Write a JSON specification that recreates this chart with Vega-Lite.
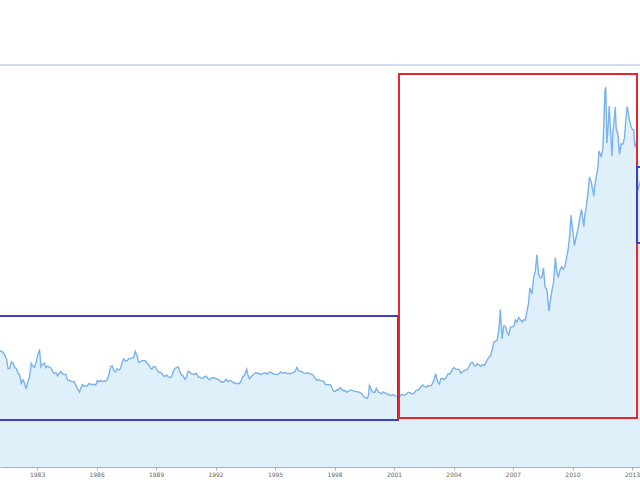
{
  "$schema": "https://vega.github.io/schema/vega-lite/v6.json",
  "width": 640,
  "height": 402,
  "autosize": {"type": "none"},
  "padding": {"left": 0, "top": 65, "right": 0, "bottom": 13},
  "background": "white",
  "config": {"view": {"stroke": null}},
  "datasets": {
    "gold": [
      {"date":"1981-02-01","price":505},{"date":"1981-03-15","price":499},{"date":"1981-04-15","price":496},{"date":"1981-05-15","price":480},{"date":"1981-06-15","price":461},{"date":"1981-07-15","price":409},{"date":"1981-08-15","price":410},{"date":"1981-09-15","price":444},{"date":"1981-10-15","price":437},{"date":"1981-11-15","price":413},{"date":"1981-12-15","price":410},
      {"date":"1982-01-15","price":384},{"date":"1982-02-15","price":374},{"date":"1982-03-15","price":330},{"date":"1982-04-15","price":350},{"date":"1982-05-15","price":333},{"date":"1982-06-15","price":300},{"date":"1982-07-15","price":340},{"date":"1982-08-15","price":364},{"date":"1982-09-15","price":436},{"date":"1982-10-15","price":422},{"date":"1982-11-15","price":415},{"date":"1982-12-15","price":444},
      {"date":"1983-01-15","price":481},{"date":"1983-02-15","price":510},{"date":"1983-03-15","price":419},{"date":"1983-04-15","price":432},{"date":"1983-05-15","price":438},{"date":"1983-06-15","price":413},{"date":"1983-07-15","price":422},{"date":"1983-08-15","price":416},{"date":"1983-09-15","price":412},{"date":"1983-10-15","price":394},{"date":"1983-11-15","price":381},{"date":"1983-12-15","price":388},
      {"date":"1984-01-15","price":370},{"date":"1984-02-15","price":386},{"date":"1984-03-15","price":394},{"date":"1984-04-15","price":381},{"date":"1984-05-15","price":377},{"date":"1984-06-15","price":378},{"date":"1984-07-15","price":348},{"date":"1984-08-15","price":348},{"date":"1984-09-15","price":341},{"date":"1984-10-15","price":340},{"date":"1984-11-15","price":341},{"date":"1984-12-15","price":320},
      {"date":"1985-01-15","price":303},{"date":"1985-02-20","price":285},{"date":"1985-03-15","price":304},{"date":"1985-04-15","price":325},{"date":"1985-05-15","price":316},{"date":"1985-06-15","price":317},{"date":"1985-07-15","price":317},{"date":"1985-08-15","price":330},{"date":"1985-09-15","price":324},{"date":"1985-10-15","price":326},{"date":"1985-11-15","price":325},{"date":"1985-12-15","price":322},
      {"date":"1986-01-15","price":345},{"date":"1986-02-15","price":339},{"date":"1986-03-15","price":346},{"date":"1986-04-15","price":340},{"date":"1986-05-15","price":342},{"date":"1986-06-15","price":343},{"date":"1986-07-15","price":348},{"date":"1986-08-15","price":376},{"date":"1986-09-15","price":418},{"date":"1986-10-15","price":423},{"date":"1986-11-15","price":398},{"date":"1986-12-15","price":391},
      {"date":"1987-01-15","price":408},{"date":"1987-02-15","price":401},{"date":"1987-03-15","price":408},{"date":"1987-04-15","price":439},{"date":"1987-05-15","price":460},{"date":"1987-06-15","price":450},{"date":"1987-07-15","price":450},{"date":"1987-08-15","price":461},{"date":"1987-09-15","price":460},{"date":"1987-10-15","price":465},{"date":"1987-11-15","price":467},{"date":"1987-12-14","price":500},
      {"date":"1988-01-15","price":477},{"date":"1988-02-15","price":442},{"date":"1988-03-15","price":444},{"date":"1988-04-15","price":452},{"date":"1988-05-15","price":451},{"date":"1988-06-15","price":451},{"date":"1988-07-15","price":437},{"date":"1988-08-15","price":432},{"date":"1988-09-15","price":413},{"date":"1988-10-15","price":406},{"date":"1988-11-15","price":420},{"date":"1988-12-15","price":419},
      {"date":"1989-01-15","price":404},{"date":"1989-02-15","price":388},{"date":"1989-03-15","price":390},{"date":"1989-04-15","price":384},{"date":"1989-05-15","price":371},{"date":"1989-06-15","price":367},{"date":"1989-07-15","price":375},{"date":"1989-08-15","price":365},{"date":"1989-09-15","price":362},{"date":"1989-10-15","price":367},{"date":"1989-11-15","price":394},{"date":"1989-12-15","price":409},
      {"date":"1990-01-15","price":415},{"date":"1990-02-15","price":417},{"date":"1990-03-15","price":393},{"date":"1990-04-15","price":374},{"date":"1990-05-15","price":369},{"date":"1990-06-15","price":352},{"date":"1990-07-15","price":362},{"date":"1990-08-15","price":395},{"date":"1990-09-15","price":389},{"date":"1990-10-15","price":381},{"date":"1990-11-15","price":381},{"date":"1990-12-15","price":378},
      {"date":"1991-01-15","price":384},{"date":"1991-02-15","price":364},{"date":"1991-03-15","price":363},{"date":"1991-04-15","price":358},{"date":"1991-05-15","price":357},{"date":"1991-06-15","price":367},{"date":"1991-07-15","price":368},{"date":"1991-08-15","price":356},{"date":"1991-09-15","price":349},{"date":"1991-10-15","price":358},{"date":"1991-11-15","price":360},{"date":"1991-12-15","price":361},
      {"date":"1992-01-15","price":354},{"date":"1992-02-15","price":354},{"date":"1992-03-15","price":345},{"date":"1992-04-15","price":339},{"date":"1992-05-15","price":337},{"date":"1992-06-15","price":341},{"date":"1992-07-15","price":353},{"date":"1992-08-15","price":340},{"date":"1992-09-15","price":345},{"date":"1992-10-15","price":344},{"date":"1992-11-15","price":335},{"date":"1992-12-15","price":334},
      {"date":"1993-01-15","price":329},{"date":"1993-02-15","price":330},{"date":"1993-03-15","price":330},{"date":"1993-04-15","price":342},{"date":"1993-05-15","price":367},{"date":"1993-06-15","price":372},{"date":"1993-07-30","price":405},{"date":"1993-08-15","price":379},{"date":"1993-09-15","price":355},{"date":"1993-10-15","price":364},{"date":"1993-11-15","price":373},{"date":"1993-12-15","price":383},
      {"date":"1994-01-15","price":387},{"date":"1994-02-15","price":382},{"date":"1994-03-15","price":384},{"date":"1994-04-15","price":378},{"date":"1994-05-15","price":381},{"date":"1994-06-15","price":386},{"date":"1994-07-15","price":385},{"date":"1994-08-15","price":380},{"date":"1994-09-15","price":391},{"date":"1994-10-15","price":389},{"date":"1994-11-15","price":384},{"date":"1994-12-15","price":379},
      {"date":"1995-01-15","price":379},{"date":"1995-02-15","price":377},{"date":"1995-03-15","price":382},{"date":"1995-04-15","price":391},{"date":"1995-05-15","price":385},{"date":"1995-06-15","price":387},{"date":"1995-07-15","price":386},{"date":"1995-08-15","price":383},{"date":"1995-09-15","price":383},{"date":"1995-10-15","price":383},{"date":"1995-11-15","price":386},{"date":"1995-12-15","price":387},
      {"date":"1996-01-15","price":399},{"date":"1996-02-05","price":415},{"date":"1996-03-15","price":396},{"date":"1996-04-15","price":393},{"date":"1996-05-15","price":392},{"date":"1996-06-15","price":385},{"date":"1996-07-15","price":383},{"date":"1996-08-15","price":387},{"date":"1996-09-15","price":383},{"date":"1996-10-15","price":381},{"date":"1996-11-15","price":378},{"date":"1996-12-15","price":369},
      {"date":"1997-01-15","price":355},{"date":"1997-02-15","price":347},{"date":"1997-03-15","price":352},{"date":"1997-04-15","price":344},{"date":"1997-05-15","price":344},{"date":"1997-06-15","price":341},{"date":"1997-07-15","price":324},{"date":"1997-08-15","price":324},{"date":"1997-09-15","price":323},{"date":"1997-10-15","price":325},{"date":"1997-11-15","price":306},{"date":"1997-12-15","price":289},
      {"date":"1998-01-15","price":289},{"date":"1998-02-15","price":297},{"date":"1998-03-15","price":296},{"date":"1998-04-15","price":308},{"date":"1998-05-15","price":299},{"date":"1998-06-15","price":292},{"date":"1998-07-15","price":293},{"date":"1998-08-15","price":284},{"date":"1998-09-15","price":289},{"date":"1998-10-15","price":296},{"date":"1998-11-15","price":294},{"date":"1998-12-15","price":291},
      {"date":"1999-01-15","price":287},{"date":"1999-02-15","price":287},{"date":"1999-03-15","price":286},{"date":"1999-04-15","price":282},{"date":"1999-05-15","price":277},{"date":"1999-06-15","price":262},{"date":"1999-07-15","price":256},{"date":"1999-08-25","price":252},{"date":"1999-09-15","price":265},{"date":"1999-10-05","price":320},{"date":"1999-11-15","price":293},{"date":"1999-12-15","price":284},
      {"date":"2000-01-15","price":284},{"date":"2000-02-10","price":305},{"date":"2000-03-15","price":286},{"date":"2000-04-15","price":280},{"date":"2000-05-15","price":275},{"date":"2000-06-15","price":286},{"date":"2000-07-15","price":282},{"date":"2000-08-15","price":274},{"date":"2000-09-15","price":273},{"date":"2000-10-15","price":270},{"date":"2000-11-15","price":266},{"date":"2000-12-15","price":272},
      {"date":"2001-01-15","price":266},{"date":"2001-02-15","price":262},{"date":"2001-03-15","price":263},{"date":"2001-04-02","price":256},{"date":"2001-05-15","price":272},{"date":"2001-06-15","price":270},{"date":"2001-07-15","price":268},{"date":"2001-08-15","price":273},{"date":"2001-09-15","price":283},{"date":"2001-10-15","price":283},{"date":"2001-11-15","price":276},{"date":"2001-12-15","price":276},
      {"date":"2002-01-15","price":282},{"date":"2002-02-15","price":296},{"date":"2002-03-15","price":294},{"date":"2002-04-15","price":302},{"date":"2002-05-15","price":314},{"date":"2002-06-15","price":322},{"date":"2002-07-15","price":314},{"date":"2002-08-15","price":310},{"date":"2002-09-15","price":319},{"date":"2002-10-15","price":317},{"date":"2002-11-15","price":319},{"date":"2002-12-15","price":333},
      {"date":"2003-01-15","price":357},{"date":"2003-02-05","price":382},{"date":"2003-03-15","price":340},{"date":"2003-04-15","price":328},{"date":"2003-05-15","price":355},{"date":"2003-06-15","price":356},{"date":"2003-07-15","price":351},{"date":"2003-08-15","price":360},{"date":"2003-09-15","price":379},{"date":"2003-10-15","price":379},{"date":"2003-11-15","price":389},{"date":"2003-12-15","price":407},
      {"date":"2004-01-15","price":414},{"date":"2004-02-15","price":405},{"date":"2004-03-15","price":406},{"date":"2004-04-15","price":404},{"date":"2004-05-15","price":384},{"date":"2004-06-15","price":392},{"date":"2004-07-15","price":398},{"date":"2004-08-15","price":401},{"date":"2004-09-15","price":405},{"date":"2004-10-15","price":420},{"date":"2004-11-15","price":439},{"date":"2004-12-15","price":442},
      {"date":"2005-01-15","price":424},{"date":"2005-02-15","price":423},{"date":"2005-03-15","price":434},{"date":"2005-04-15","price":428},{"date":"2005-05-15","price":421},{"date":"2005-06-15","price":430},{"date":"2005-07-15","price":424},{"date":"2005-08-15","price":438},{"date":"2005-09-15","price":456},{"date":"2005-10-15","price":470},{"date":"2005-11-15","price":476},{"date":"2005-12-15","price":510},
      {"date":"2006-01-15","price":549},{"date":"2006-02-15","price":555},{"date":"2006-03-15","price":557},{"date":"2006-04-15","price":610},{"date":"2006-05-12","price":720},{"date":"2006-06-14","price":567},{"date":"2006-07-15","price":634},{"date":"2006-08-15","price":632},{"date":"2006-09-15","price":599},{"date":"2006-10-15","price":585},{"date":"2006-11-15","price":627},{"date":"2006-12-15","price":629},
      {"date":"2007-01-15","price":631},{"date":"2007-02-15","price":665},{"date":"2007-03-15","price":655},{"date":"2007-04-15","price":679},{"date":"2007-05-15","price":667},{"date":"2007-06-15","price":655},{"date":"2007-07-15","price":665},{"date":"2007-08-15","price":665},{"date":"2007-09-15","price":712},{"date":"2007-10-15","price":754},{"date":"2007-11-08","price":835},{"date":"2007-12-15","price":803},
      {"date":"2008-01-15","price":889},{"date":"2008-02-15","price":922},{"date":"2008-03-17","price":1011},{"date":"2008-04-15","price":909},{"date":"2008-05-15","price":888},{"date":"2008-06-15","price":889},{"date":"2008-07-15","price":939},{"date":"2008-08-15","price":839},{"date":"2008-09-15","price":829},{"date":"2008-10-24","price":712},{"date":"2008-11-15","price":760},{"date":"2008-12-15","price":816},
      {"date":"2009-01-15","price":858},{"date":"2009-02-20","price":995},{"date":"2009-03-15","price":924},{"date":"2009-04-15","price":890},{"date":"2009-05-15","price":928},{"date":"2009-06-15","price":946},{"date":"2009-07-15","price":934},{"date":"2009-08-15","price":949},{"date":"2009-09-15","price":996},{"date":"2009-10-15","price":1043},{"date":"2009-11-15","price":1127},{"date":"2009-12-03","price":1218},
      {"date":"2010-01-15","price":1117},{"date":"2010-02-05","price":1058},{"date":"2010-03-15","price":1113},{"date":"2010-04-15","price":1148},{"date":"2010-05-15","price":1205},{"date":"2010-06-15","price":1250},{"date":"2010-07-28","price":1158},{"date":"2010-08-15","price":1215},{"date":"2010-09-15","price":1271},{"date":"2010-10-15","price":1342},{"date":"2010-11-09","price":1421},{"date":"2010-12-15","price":1391},
      {"date":"2011-01-28","price":1319},{"date":"2011-02-15","price":1372},{"date":"2011-03-15","price":1424},{"date":"2011-04-15","price":1474},{"date":"2011-05-02","price":1557},{"date":"2011-06-15","price":1529},{"date":"2011-07-15","price":1572},{"date":"2011-08-22","price":1877},{"date":"2011-09-06","price":1895},{"date":"2011-09-26","price":1600},{"date":"2011-10-15","price":1666},{"date":"2011-11-08","price":1795},{"date":"2011-12-29","price":1531},
      {"date":"2012-01-15","price":1656},{"date":"2012-02-28","price":1790},{"date":"2012-03-15","price":1675},{"date":"2012-04-15","price":1649},{"date":"2012-05-16","price":1540},{"date":"2012-06-15","price":1596},{"date":"2012-07-15","price":1594},{"date":"2012-08-15","price":1626},{"date":"2012-09-15","price":1744},{"date":"2012-10-04","price":1792},{"date":"2012-11-15","price":1722},{"date":"2012-12-15","price":1684},
      {"date":"2013-01-15","price":1671},{"date":"2013-02-01","price":1670},{"date":"2013-02-22","price":1585},{"date":"2013-03-15","price":1595},{"date":"2013-04-05","price":1555},{"date":"2013-04-12","price":1480},{"date":"2013-04-16","price":1350},{"date":"2013-05-20","price":1380},{"date":"2013-06-05","price":1400}
    ],
    "boxes": [
      {"x":"1979-01-01","x2":"2001-03-15","y":686,"y2":137,"c":"#3d3fc8"},
      {"x":"2001-04-02","x2":"2013-04-03","y":1964,"y2":148,"c":"#e8262b"},
      {"x":"2013-04-03","x2":"2015-01-01","y":1473,"y2":1072,"c":"#3d3fc8"}
    ]
  },
  "layer": [
    {
      "data": {"name": "gold"},
      "mark": {"type": "area", "color": "#dff0fa", "clip": true},
      "encoding": {
        "x": {"field": "date", "type": "temporal",
              "scale": {"domain": ["1981-02-17", "2013-05-28"]},
              "axis": {"values": [{"year":1983},{"year":1986},{"year":1989},{"year":1992},{"year":1995},{"year":1998},{"year":2001},{"year":2004},{"year":2007},{"year":2010},{"year":2013}],
                       "format": "%Y", "title": null, "grid": false,
                       "domainColor": "#b0b0b0", "tickColor": "#b0b0b0", "tickSize": 3,
                       "labelFontSize": 6, "labelColor": "#666666", "labelPadding": 1,
                       "labelFont": "DejaVu Sans"}},
        "y": {"field": "price", "type": "quantitative",
              "scale": {"domain": [-111, 2012], "nice": false, "zero": false},
              "axis": null},
        "y2": {"datum": -111}
      }
    },
    {
      "data": {"name": "gold"},
      "mark": {"type": "line", "color": "#7ab2ec", "strokeWidth": 1.4, "clip": true},
      "encoding": {
        "x": {"field": "date", "type": "temporal"},
        "y": {"field": "price", "type": "quantitative"}
      }
    },
    {
      "data": {"values": [{"top": 2012}]},
      "mark": {"type": "rule", "color": "#d3ddf7", "strokeWidth": 2},
      "encoding": {"y": {"field": "top", "type": "quantitative"}}
    },
    {
      "data": {"name": "boxes"},
      "mark": {"type": "rect", "fillOpacity": 0, "strokeWidth": 2, "clip": true},
      "encoding": {
        "x": {"field": "x", "type": "temporal"},
        "x2": {"field": "x2"},
        "y": {"field": "y", "type": "quantitative"},
        "y2": {"field": "y2"},
        "stroke": {"field": "c", "type": "nominal", "scale": null}
      }
    }
  ]
}
